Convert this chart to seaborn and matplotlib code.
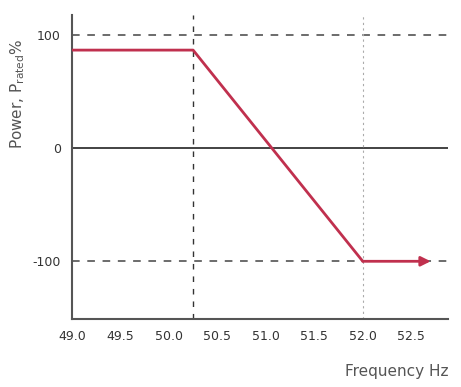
"""Frequency-droop power curve: active power vs grid frequency."""

import matplotlib
matplotlib.use("Agg")
import matplotlib.pyplot as plt
import pandas as pd
import seaborn as sns

# curve data
FREQ = [49.0, 50.25, 52.0]
POWER = [87, 87, -100]
ARROW_END = 52.7

# reference lines
LIMIT_LEVELS = [100, -100]
START_FREQ = 50.25
END_FREQ = 52.0

X_TICKS = [49.0, 49.5, 50.0, 50.5, 51.0, 51.5, 52.0, 52.5]
Y_TICKS = [100, 0, -100]

RED = "#c0304e"

sns.set_theme(style="white")
plt.rcParams["font.family"] = ["DejaVu Sans"]


def main():
    df = pd.DataFrame({"freq": FREQ, "power": POWER})

    fig = plt.figure(figsize=(4.61, 3.87), dpi=100)
    ax = fig.add_axes([0.156, 0.176, 0.816, 0.785])

    # reference lines
    for lvl in LIMIT_LEVELS:
        ax.axhline(lvl, color="#444444", lw=1.1, ls=(0, (5, 5)), zorder=1)
    ax.axhline(0, color="#222222", lw=1.2, zorder=1)
    ax.axvline(START_FREQ, color="#333333", lw=1.0, ls=(0, (4, 5)), zorder=1)
    ax.axvline(END_FREQ, color="#aaaaaa", lw=0.8, ls=(0, (2, 3)), zorder=1)

    sns.lineplot(data=df, x="freq", y="power", color=RED, lw=2, ax=ax, zorder=3)
    ax.annotate("", xy=(ARROW_END, POWER[-1]), xytext=(FREQ[-1], POWER[-1]),
                arrowprops=dict(arrowstyle="-|>", color=RED, lw=2,
                                mutation_scale=14, shrinkA=0, shrinkB=0),
                zorder=3)

    ax.set_xlim(49.0, 52.88)
    ax.set_ylim(-151, 118)
    ax.set_xticks(X_TICKS)
    ax.set_xticklabels([f"{t:.1f}" for t in X_TICKS])
    ax.set_yticks(Y_TICKS)
    ax.set_yticklabels(["100", "0", "-100"])
    ax.tick_params(axis="both", labelsize=9, colors="#333333",
                   direction="inout", length=4, width=0.8, pad=6)

    for side in ["top", "right"]:
        ax.spines[side].set_visible(False)
    for side in ["left", "bottom"]:
        ax.spines[side].set_color("#555555")
        ax.spines[side].set_linewidth(1.5)

    ax.set_xlabel("Frequency Hz", fontsize=11, color="#555555", ha="right")
    ax.xaxis.set_label_coords(1.0, -0.15)
    ax.set_ylabel(r"Power, P$_{\mathrm{rated}}$%", fontsize=11, color="#555555")
    ax.yaxis.set_label_coords(-0.12, 0.74)

    fig.savefig("out.png", dpi=100)
    plt.close(fig)


if __name__ == "__main__":
    main()
